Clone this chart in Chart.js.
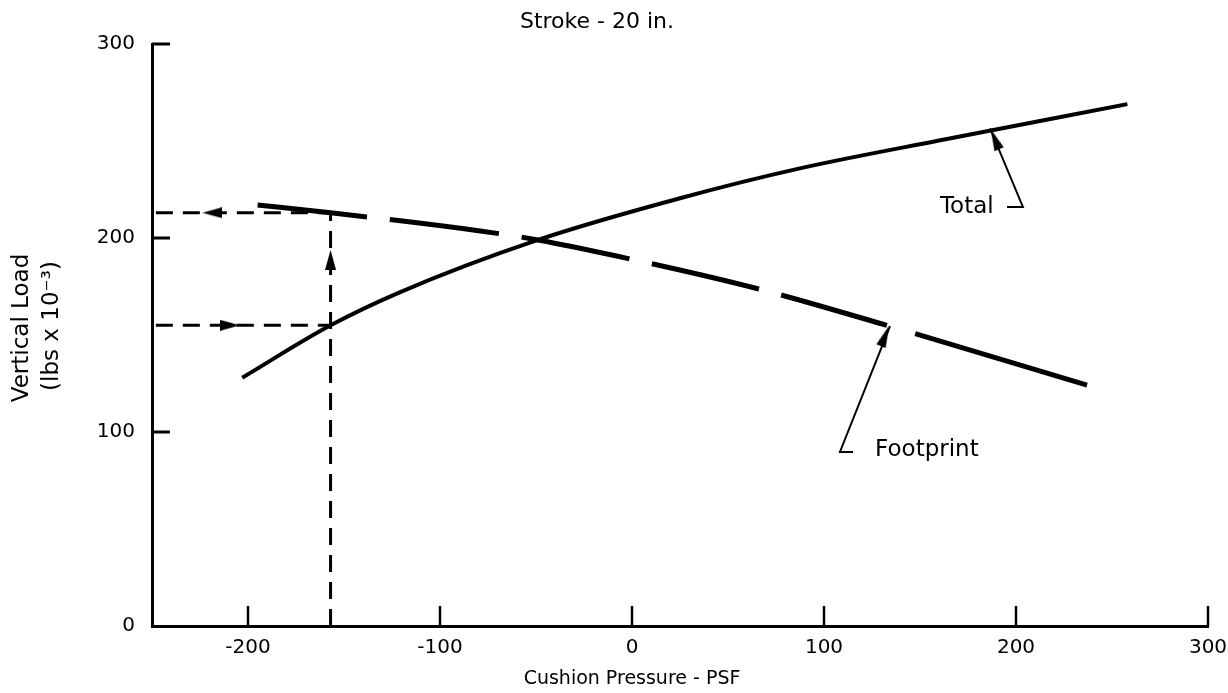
<!DOCTYPE html>
<html>
<head>
<meta charset="utf-8">
<script src="https://cdn.jsdelivr.net/npm/chart.js@4"></script>
<style>
  body { margin: 0; background: #fff; }
  #wrap { width: 1228px; height: 693px; position: relative; }
</style>
</head>
<body>
<div id="wrap"><canvas id="myChart"></canvas></div>
<script>
// axis ticks
var xTicks = [-200, -100, 0, 100, 200, 300];
var yTicks = [0, 100, 200, 300];

// Total (solid curve)
var totalX = [-203, -157, -121, -49, 25, 88, 164, 258];
var totalY = [128, 155, 172, 199, 220.5, 236, 251, 269];

// Footprint (long dashed curve)
var footX = [-195, -157, -79, -49, -8, 66, 134, 237];
var footY = [217, 213, 203.6, 199, 190.7, 173.7, 154.6, 124.2];

// worked example read-off lines
var guideP = -157;
var guideTop = 213;
var guideLow = 155;
var guideStart = -248;

// leader lines to the curve labels
var totalLeaderX = [195.3, 203.6, 186.5];
var totalLeaderY = [216, 216, 256.5];
var footLeaderX = [115.1, 108.3, 134.4];
var footLeaderY = [89.7, 89.7, 154.6];

// arrow heads: x, y, direction (deg)
var arrowX = [-218.5, -209.4, -157, 189, 131.8];
var arrowY = [213, 155, 188.7, 251, 149.5];
var arrowRot = [-90, 90, 0, -22.7, 21.6];

// curve labels
var noteText = ['Total', 'Footprint'];
var noteX = [160.4, 126.6];
var noteY = [216, 90.7];

function pts(xs, ys) {
	return xs.map(function (v, i) { return { x: v, y: ys[i] }; });
}

function arrowHead(w, h) {
	var c = document.createElement('canvas');
	c.width = w; c.height = h;
	var g = c.getContext('2d');
	g.fillStyle = '#000';
	g.beginPath();
	g.moveTo(w / 2, 0);
	g.lineTo(w, h);
	g.lineTo(0, h);
	g.closePath();
	g.fill();
	return c;
}
var headSmall = arrowHead(11, 20);
var headLong = arrowHead(10, 22);

Chart.defaults.font.family = "'DejaVu Sans', sans-serif";
Chart.defaults.color = '#000';

var extras = {
	id: 'extras',
	afterDraw: function (chart) {
		var ctx = chart.ctx, area = chart.chartArea;
		var xs = chart.scales.x, ys = chart.scales.y;
		ctx.save();
		ctx.strokeStyle = '#000';
		ctx.fillStyle = '#000';
		// inward tick marks
		ctx.lineWidth = 3;
		yTicks.forEach(function (v) {
			if (v === 0) return;
			var py = ys.getPixelForValue(v);
			ctx.beginPath(); ctx.moveTo(area.left, py); ctx.lineTo(area.left + 18, py); ctx.stroke();
		});
		ctx.lineWidth = 2.5;
		xTicks.forEach(function (v) {
			var px = xs.getPixelForValue(v);
			ctx.beginPath(); ctx.moveTo(px, area.bottom); ctx.lineTo(px, area.bottom - 20); ctx.stroke();
		});
		// curve labels
		ctx.textBaseline = 'middle';
		ctx.textAlign = 'left';
		ctx.font = "23px 'DejaVu Sans'";
		noteText.forEach(function (t, i) {
			ctx.fillText(t, xs.getPixelForValue(noteX[i]), ys.getPixelForValue(noteY[i]));
		});
		// title and x axis title
		ctx.textAlign = 'center';
		ctx.font = "22px 'DejaVu Sans'";
		ctx.fillText('Stroke - 20 in.', 597, 22);
		ctx.font = "19px 'DejaVu Sans'";
		ctx.fillText('Cushion Pressure - PSF', 632, 679);
		// y axis title, two rotated lines
		ctx.font = "23px 'DejaVu Sans'";
		ctx.save();
		ctx.translate(22, 328);
		ctx.rotate(-Math.PI / 2);
		ctx.fillText('Vertical Load', 0, 0);
		ctx.restore();
		ctx.save();
		ctx.translate(52, 326);
		ctx.rotate(-Math.PI / 2);
		ctx.fillText('(lbs x 10\u207B\u00B3)', 0, 0);
		ctx.restore();
		ctx.restore();
	}
};

var dashGuide = [17, 10];

var ctx = document.getElementById('myChart').getContext('2d');
var chart = new Chart(ctx, {
	type: 'line',
	data: {
		datasets: [{
			label: 'Total',
			data: pts(totalX, totalY),
			borderColor: '#000',
			borderWidth: 4,
			cubicInterpolationMode: 'monotone',
			pointRadius: 0
		}, {
			label: 'Footprint',
			data: pts(footX, footY),
			borderColor: '#000',
			borderWidth: 5,
			cubicInterpolationMode: 'monotone',
			pointRadius: 0,
			borderDash: [110, 23],
			segment: {
				borderDash: function (c) { return c.p0DataIndex >= 6 ? [180, 27] : [110, 23]; },
				borderDashOffset: function (c) { return c.p0DataIndex >= 6 ? 180 : 0; }
			}
		}, {
			label: 'guide v',
			data: [{ x: guideP, y: 0 }, { x: guideP, y: guideTop }],
			borderColor: '#000', borderWidth: 3, borderDash: dashGuide, pointRadius: 0
		}, {
			label: 'guide top',
			data: [{ x: guideStart, y: guideTop }, { x: guideP, y: guideTop }],
			borderColor: '#000', borderWidth: 3, borderDash: dashGuide, pointRadius: 0
		}, {
			label: 'guide low',
			data: [{ x: guideStart, y: guideLow }, { x: guideP, y: guideLow }],
			borderColor: '#000', borderWidth: 3, borderDash: dashGuide, pointRadius: 0
		}, {
			label: 'leader total',
			data: pts(totalLeaderX, totalLeaderY),
			borderColor: '#000', borderWidth: 2, pointRadius: 0, tension: 0
		}, {
			label: 'leader foot',
			data: pts(footLeaderX, footLeaderY),
			borderColor: '#000', borderWidth: 2, pointRadius: 0, tension: 0
		}, {
			label: 'arrows',
			data: pts(arrowX, arrowY),
			showLine: false,
			pointStyle: [headSmall, headSmall, headSmall, headLong, headLong],
			pointRotation: arrowRot,
			pointRadius: 6
		}]
	},
	options: {
		responsive: true,
		maintainAspectRatio: false,
		animation: false,
		events: [],
		layout: { padding: { top: 44, right: 0, left: 0, bottom: 0 } },
		plugins: {
			legend: { display: false },
			tooltip: { enabled: false }
		},
		scales: {
			x: {
				type: 'linear',
				min: -250,
				max: 300,
				afterBuildTicks: function (s) { s.ticks = xTicks.map(function (v) { return { value: v }; }); },
				afterFit: function (s) { s.height = 67; s.paddingRight = 20; s.paddingLeft = 0; },
				grid: { display: false, drawTicks: false },
				border: { display: true, color: '#000', width: 3 },
				ticks: { padding: 10, font: { size: 20 }, maxRotation: 0, autoSkip: false }
			},
			y: {
				type: 'linear',
				min: 0,
				max: 300,
				afterBuildTicks: function (s) { s.ticks = yTicks.map(function (v) { return { value: v }; }); },
				afterFit: function (s) { s.width = 152; },
				grid: { display: false, drawTicks: false },
				border: { display: true, color: '#000', width: 3 },
				ticks: { padding: 17, font: { size: 20 } }
			}
		}
	},
	plugins: [extras]
});
</script>
</body>
</html>
